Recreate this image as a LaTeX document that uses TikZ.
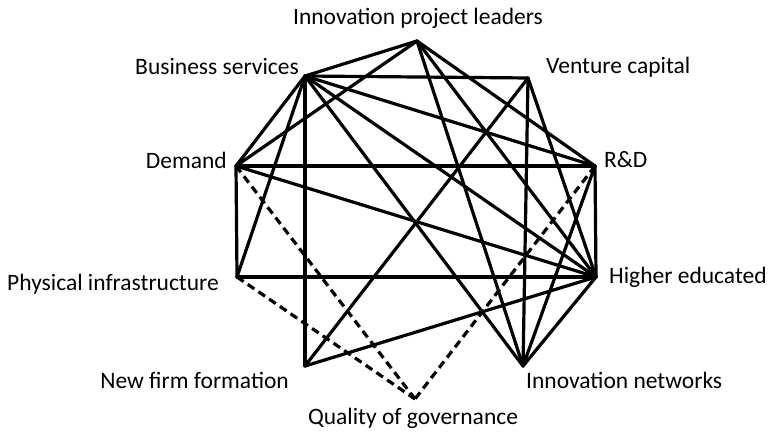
\documentclass[tikz,border=0pt]{standalone}
\usepackage{fontspec}
\setmainfont{Carlito}
\usetikzlibrary{positioning}

\tikzset{
    link/.style={line width=3.2pt, line cap=round, line join=round},
    weaklink/.style={link, dash pattern=on 8pt off 5pt, line cap=butt},
    lbl/.style={font=\fontsize{23.5}{26}\selectfont, inner sep=0pt}
}

\begin{document}
\begin{tikzpicture}[x=1pt, y=1pt]
    \useasboundingbox (0, 0) rectangle (778, 435);
    % end points of the lines
    \coordinate (ipl) at (417, 394);
    \coordinate (bs) at (305, 359);
    \coordinate (vc) at (528, 357);
    \coordinate (dem) at (236, 269);
    \coordinate (rd) at (595, 269);
    \coordinate (pi) at (237, 158);
    \coordinate (he) at (596, 158);
    \coordinate (nff) at (305, 69);
    \coordinate (inw) at (523, 69);
    \coordinate (qog) at (415, 36);

    % labels
    \node[lbl] (ipl-lbl) at (418, 417) {Innovation project leaders};
    \node[lbl, anchor=east] (bs-lbl) at (299, 368) {Business services};
    \node[lbl, anchor=west] (vc-lbl) at (546, 368) {Venture capital};
    \node[lbl, anchor=east] (dem-lbl) at (227, 275) {Demand};
    \node[lbl, anchor=west] (rd-lbl) at (604, 275) {R\&D};
    \node[lbl, anchor=east] (pi-lbl) at (219, 151) {Physical infrastructure};
    \node[lbl, anchor=west] (he-lbl) at (609, 158) {Higher educated};
    \node[lbl, anchor=east] (nff-lbl) at (289, 55) {New firm formation};
    \node[lbl, anchor=west] (inw-lbl) at (526, 55) {Innovation networks};
    \node[lbl] (qog-lbl) at (413, 17) {Quality of governance};

    % strong links
    \draw[link] (ipl) -- (bs);
    \draw[link] (ipl) -- (dem);
    \draw[link] (ipl) -- (rd);
    \draw[link] (ipl) -- (he);
    \draw[link] (ipl) -- (inw);
    \draw[link] (bs) -- (vc);
    \draw[link] (bs) -- (dem);
    \draw[link] (bs) -- (pi);
    \draw[link] (bs) -- (nff);
    \draw[link] (bs) -- (rd);
    \draw[link] (bs) -- (he);
    \draw[link] (bs) -- (inw);
    \draw[link] (vc) -- (nff);
    \draw[link] (vc) -- (inw);
    \draw[link] (vc) -- (he);
    \draw[link] (dem) -- (rd);
    \draw[link] (dem) -- (pi);
    \draw[link] (dem) -- (he);
    \draw[link] (pi) -- (he);
    \draw[link] (rd) -- (he);
    \draw[link] (rd) -- (inw);
    \draw[link] (he) -- (nff);
    \draw[link] (he) -- (inw);

    % weak links
    \draw[weaklink] (dem) -- (qog);
    \draw[weaklink] (pi) -- (qog);
    \draw[weaklink] (rd) -- (qog);
\end{tikzpicture}
\end{document}
